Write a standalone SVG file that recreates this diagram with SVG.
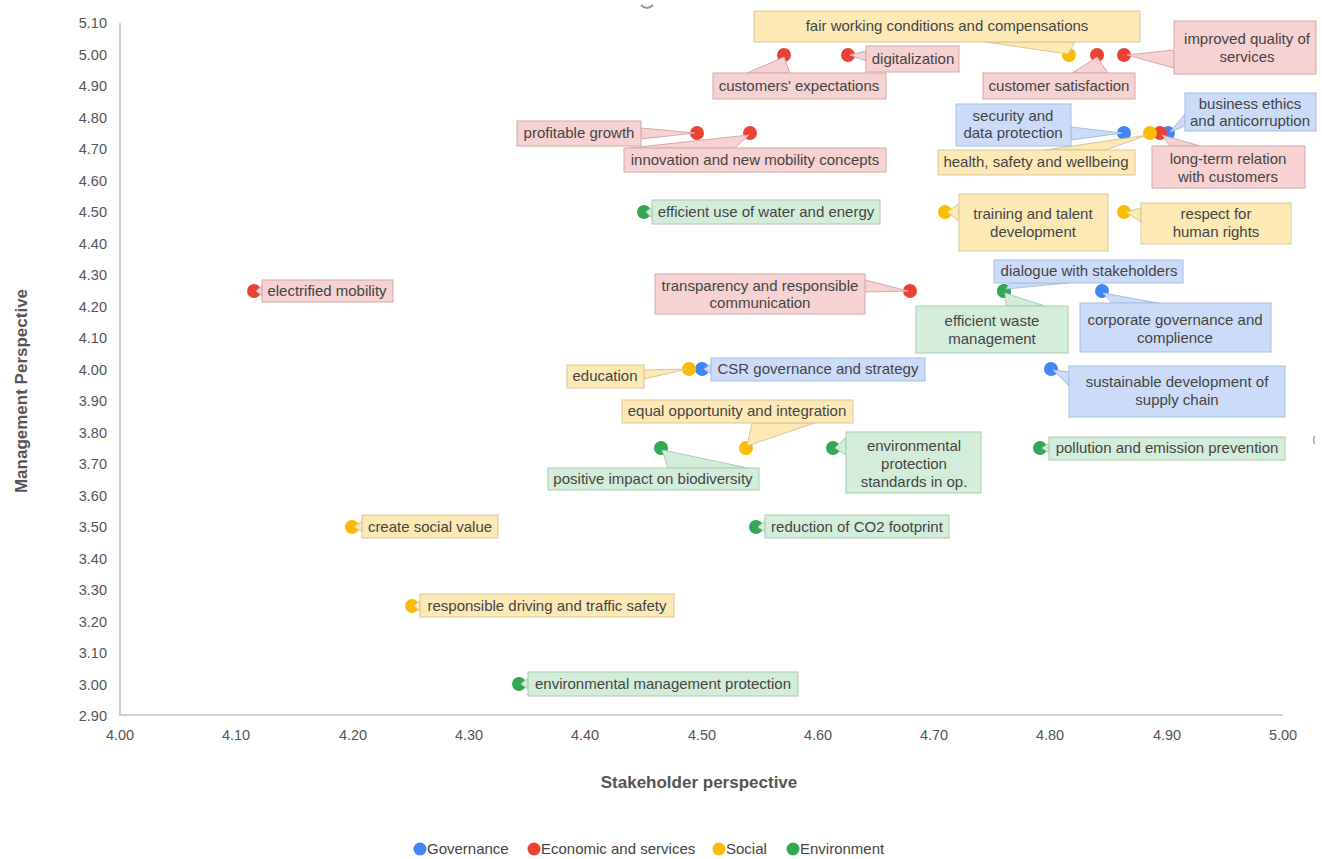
<svg xmlns="http://www.w3.org/2000/svg" width="1322" height="859" viewBox="0 0 1322 859">
  <style>
    text { font-family: "Liberation Sans", Arial, sans-serif; }
    .tick { font-size: 14.5px; fill: #555; }
    .ty { text-anchor: end; }
    .tx { text-anchor: middle; }
    .title { font-size: 17px; font-weight: bold; fill: #555; text-anchor: middle; }
    .leg { font-size: 15px; fill: #444; }
    .lbl { font-size: 15px; fill: #444; text-anchor: middle; }
    .axis { stroke: #cfcfcf; stroke-width: 2; fill: none; }
    .gov { fill: #4285F4; }
    .eco { fill: #EA4335; }
    .soc { fill: #FBBC04; }
    .env { fill: #34A853; }
    .bg { fill: #CCDCF8; stroke: #a9bedf; stroke-width: 1; }
    .be { fill: #F6D2D2; stroke: #d4aaaa; stroke-width: 1; }
    .bs { fill: #FCE9B6; stroke: #d8c795; stroke-width: 1; }
    .bn { fill: #D4EDDA; stroke: #a9ccb2; stroke-width: 1; }
  </style>

  <rect x="0" y="0" width="1322" height="859" fill="#ffffff"/>

  <!-- axes -->
  <g id="axes">
    <line class="axis" x1="120" y1="23" x2="120" y2="715"/>
    <line class="axis" x1="119" y1="715" x2="1283" y2="715"/>
    <path d="M641,5 Q647,11 653,5" stroke="#9a9a9a" stroke-width="2" fill="none"/>
    <path d="M1315,436 Q1312,440 1315,444" stroke="#aaaaaa" stroke-width="1.5" fill="none"/>
  </g>

  <!-- y ticks: 0.10 = 31.45px, 3.00 at y=684 -->
  <g id="y-ticks" class="tick ty">
    <text x="107" y="28">5.10</text>
    <text x="107" y="60">5.00</text>
    <text x="107" y="91">4.90</text>
    <text x="107" y="123">4.80</text>
    <text x="107" y="154">4.70</text>
    <text x="107" y="186">4.60</text>
    <text x="107" y="217">4.50</text>
    <text x="107" y="249">4.40</text>
    <text x="107" y="280">4.30</text>
    <text x="107" y="312">4.20</text>
    <text x="107" y="343">4.10</text>
    <text x="107" y="375">4.00</text>
    <text x="107" y="406">3.90</text>
    <text x="107" y="438">3.80</text>
    <text x="107" y="469">3.70</text>
    <text x="107" y="501">3.60</text>
    <text x="107" y="532">3.50</text>
    <text x="107" y="564">3.40</text>
    <text x="107" y="595">3.30</text>
    <text x="107" y="627">3.20</text>
    <text x="107" y="658">3.10</text>
    <text x="107" y="690">3.00</text>
    <text x="107" y="721">2.90</text>
  </g>

  <!-- x ticks: 0.10 = 116.3px, 4.00 at x=120 -->
  <g id="x-ticks" class="tick tx">
    <text x="120" y="740">4.00</text>
    <text x="236" y="740">4.10</text>
    <text x="353" y="740">4.20</text>
    <text x="469" y="740">4.30</text>
    <text x="585" y="740">4.40</text>
    <text x="702" y="740">4.50</text>
    <text x="818" y="740">4.60</text>
    <text x="934" y="740">4.70</text>
    <text x="1050" y="740">4.80</text>
    <text x="1167" y="740">4.90</text>
    <text x="1283" y="740">5.00</text>
  </g>

  <g id="axis-titles">
    <text class="title" x="699" y="788">Stakeholder perspective</text>
    <text class="title" transform="translate(27,391) rotate(-90)">Management Perspective</text>
  </g>

  <!-- data points, drawn series by series -->
  <g id="points">
    <circle class="gov" cx="1124" cy="133" r="7"/>
    <circle class="gov" cx="1168" cy="133" r="7"/>
    <circle class="gov" cx="1004" cy="291" r="7"/>
    <circle class="gov" cx="1102" cy="291" r="7"/>
    <circle class="gov" cx="702" cy="369" r="7"/>
    <circle class="gov" cx="1051" cy="369" r="7"/>

    <circle class="eco" cx="784" cy="55" r="7"/>
    <circle class="eco" cx="848" cy="55" r="7"/>
    <circle class="eco" cx="1097" cy="55" r="7"/>
    <circle class="eco" cx="1124" cy="55" r="7"/>
    <circle class="eco" cx="697" cy="133" r="7"/>
    <circle class="eco" cx="750" cy="133" r="7"/>
    <circle class="eco" cx="1160" cy="133" r="7"/>
    <circle class="eco" cx="254" cy="291" r="7"/>
    <circle class="eco" cx="910" cy="291" r="7"/>

    <circle class="soc" cx="1069" cy="55" r="7"/>
    <circle class="soc" cx="1150" cy="133" r="7"/>
    <circle class="soc" cx="945" cy="212" r="7"/>
    <circle class="soc" cx="1124" cy="212" r="7"/>
    <circle class="soc" cx="689" cy="369" r="7"/>
    <circle class="soc" cx="746" cy="448" r="7"/>
    <circle class="soc" cx="352" cy="527" r="7"/>
    <circle class="soc" cx="412" cy="606" r="7"/>

    <circle class="env" cx="644" cy="212" r="7"/>
    <circle class="env" cx="1004" cy="291" r="7"/>
    <circle class="env" cx="661" cy="448" r="7"/>
    <circle class="env" cx="833" cy="448" r="7"/>
    <circle class="env" cx="1040" cy="448" r="7"/>
    <circle class="env" cx="756" cy="527" r="7"/>
    <circle class="env" cx="519" cy="684" r="7"/>
  </g>

  <!-- callout tails from each label to its point -->
  <g id="connectors">
    <polygon class="bs" points="985,42 1068,54 1075,42"/>
    <polygon class="be" points="747,73 784,57 790,73"/>
    <polygon class="be" points="866,51 850,55 866,61"/>
    <polygon class="be" points="1174,50 1127,55 1174,68"/>
    <polygon class="be" points="1072,73 1097,57 1108,73"/>
    <polygon class="be" points="641,128 695,133 641,139"/>
    <polygon class="be" points="630,148 749,135 735,148"/>
    <polygon class="bg" points="1071,127 1122,133 1071,140"/>
    <polygon class="bg" points="1185,114 1170,132 1185,126"/>
    <polygon class="bs" points="1045,150 1148,135 1105,150"/>
    <polygon class="be" points="1170,146 1162,135 1200,146"/>
    <polygon class="bn" points="652,207 646,212 652,218"/>
    <polygon class="bs" points="959,204 947,212 959,221"/>
    <polygon class="bs" points="1141,208 1126,212 1141,222"/>
    <polygon class="be" points="262,286 256,291 262,296"/>
    <polygon class="be" points="865,280 908,291 865,292"/>
    <polygon class="bg" points="1010,283 1006,289 1068,283"/>
    <polygon class="bn" points="1006,306 1005,293 1045,306"/>
    <polygon class="bg" points="1112,303 1103,293 1158,303"/>
    <polygon class="bs" points="644,370 687,369 644,379"/>
    <polygon class="bg" points="711,364 704,369 711,374"/>
    <polygon class="bg" points="1069,372 1053,370 1069,386"/>
    <polygon class="bs" points="752,423 747,446 815,423"/>
    <polygon class="bn" points="668,468 662,450 748,468"/>
    <polygon class="bn" points="846,437 835,448 846,455"/>
    <polygon class="bn" points="1049,443 1042,448 1049,453"/>
    <polygon class="bs" points="362,521 354,527 362,532"/>
    <polygon class="bn" points="765,521 758,527 765,532"/>
    <polygon class="bs" points="420,600 414,606 420,611"/>
    <polygon class="bn" points="528,678 521,684 528,689"/>
  </g>

  <!-- labels -->
  <g id="n-fair-working">
    <rect class="bs" x="754" y="11" width="386" height="31"/>
    <text class="lbl" x="947" y="31">fair working conditions and compensations</text>
  </g>
  <g id="n-customers-expectations">
    <rect class="be" x="713" y="73" width="173" height="26"/>
    <text class="lbl" x="799" y="91">customers' expectations</text>
  </g>
  <g id="n-digitalization">
    <rect class="be" x="866" y="46" width="93" height="26"/>
    <text class="lbl" x="913" y="64">digitalization</text>
  </g>
  <g id="n-improved-quality">
    <rect class="be" x="1174" y="21" width="142" height="53"/>
    <text class="lbl" x="1247" y="44">improved quality of</text>
    <text class="lbl" x="1247" y="62">services</text>
  </g>
  <g id="n-customer-satisfaction">
    <rect class="be" x="983" y="73" width="152" height="26"/>
    <text class="lbl" x="1059" y="91">customer satisfaction</text>
  </g>
  <g id="n-profitable-growth">
    <rect class="be" x="517" y="121" width="124" height="25"/>
    <text class="lbl" x="579" y="138">profitable growth</text>
  </g>
  <g id="n-innovation">
    <rect class="be" x="624" y="148" width="262" height="24"/>
    <text class="lbl" x="755" y="165">innovation and new mobility concepts</text>
  </g>
  <g id="n-security">
    <rect class="bg" x="956" y="104" width="115" height="42"/>
    <text class="lbl" x="1013" y="121">security and</text>
    <text class="lbl" x="1013" y="138">data protection</text>
  </g>
  <g id="n-business-ethics">
    <rect class="bg" x="1185" y="93" width="131" height="38"/>
    <text class="lbl" x="1250" y="109">business ethics</text>
    <text class="lbl" x="1250" y="126">and anticorruption</text>
  </g>
  <g id="n-health-safety">
    <rect class="bs" x="938" y="150" width="197" height="25"/>
    <text class="lbl" x="1036" y="167">health, safety and wellbeing</text>
  </g>
  <g id="n-long-term-relation">
    <rect class="be" x="1152" y="146" width="153" height="42"/>
    <text class="lbl" x="1228" y="164">long-term relation</text>
    <text class="lbl" x="1228" y="182">with customers</text>
  </g>
  <g id="n-water-energy">
    <rect class="bn" x="652" y="200" width="228" height="24"/>
    <text class="lbl" x="766" y="217">efficient use of water and energy</text>
  </g>
  <g id="n-training">
    <rect class="bs" x="959" y="194" width="149" height="57"/>
    <text class="lbl" x="1033" y="219">training and talent</text>
    <text class="lbl" x="1033" y="237">development</text>
  </g>
  <g id="n-human-rights">
    <rect class="bs" x="1141" y="203" width="150" height="41"/>
    <text class="lbl" x="1216" y="219">respect for</text>
    <text class="lbl" x="1216" y="237">human rights</text>
  </g>
  <g id="n-electrified-mobility">
    <rect class="be" x="262" y="280" width="131" height="22"/>
    <text class="lbl" x="327" y="296">electrified mobility</text>
  </g>
  <g id="n-transparency">
    <rect class="be" x="655" y="274" width="210" height="40"/>
    <text class="lbl" x="760" y="291">transparency and responsible</text>
    <text class="lbl" x="760" y="308">communication</text>
  </g>
  <g id="n-dialogue">
    <rect class="bg" x="994" y="260" width="189" height="23"/>
    <text class="lbl" x="1089" y="276">dialogue with stakeholders</text>
  </g>
  <g id="n-waste">
    <rect class="bn" x="916" y="306" width="152" height="47"/>
    <text class="lbl" x="992" y="326">efficient waste</text>
    <text class="lbl" x="992" y="344">management</text>
  </g>
  <g id="n-corporate-governance">
    <rect class="bg" x="1080" y="303" width="191" height="49"/>
    <text class="lbl" x="1175" y="325">corporate governance and</text>
    <text class="lbl" x="1175" y="343">complience</text>
  </g>
  <g id="n-education">
    <rect class="bs" x="567" y="365" width="77" height="23"/>
    <text class="lbl" x="605" y="381">education</text>
  </g>
  <g id="n-csr">
    <rect class="bg" x="711" y="358" width="214" height="23"/>
    <text class="lbl" x="818" y="374">CSR governance and strategy</text>
  </g>
  <g id="n-supply-chain">
    <rect class="bg" x="1069" y="366" width="216" height="51"/>
    <text class="lbl" x="1177" y="387">sustainable development of</text>
    <text class="lbl" x="1177" y="405">supply chain</text>
  </g>
  <g id="n-equal-opportunity">
    <rect class="bs" x="622" y="400" width="231" height="23"/>
    <text class="lbl" x="737" y="416">equal opportunity and integration</text>
  </g>
  <g id="n-biodiversity">
    <rect class="bn" x="548" y="468" width="211" height="22"/>
    <text class="lbl" x="653" y="484">positive impact on biodiversity</text>
  </g>
  <g id="n-env-protection">
    <rect class="bn" x="846" y="432" width="135" height="61"/>
    <text class="lbl" x="914" y="451">environmental</text>
    <text class="lbl" x="914" y="469">protection</text>
    <text class="lbl" x="914" y="487">standards in op.</text>
  </g>
  <g id="n-pollution">
    <rect class="bn" x="1049" y="437" width="236" height="23"/>
    <text class="lbl" x="1167" y="453">pollution and emission prevention</text>
  </g>
  <g id="n-social-value">
    <rect class="bs" x="362" y="515" width="136" height="23"/>
    <text class="lbl" x="430" y="532">create social value</text>
  </g>
  <g id="n-co2">
    <rect class="bn" x="765" y="515" width="184" height="23"/>
    <text class="lbl" x="857" y="532">reduction of CO2 footprint</text>
  </g>
  <g id="n-driving">
    <rect class="bs" x="420" y="594" width="254" height="23"/>
    <text class="lbl" x="547" y="611">responsible driving and traffic safety</text>
  </g>
  <g id="n-env-management">
    <rect class="bn" x="528" y="672" width="270" height="24"/>
    <text class="lbl" x="663" y="689">environmental management protection</text>
  </g>

  <!-- legend -->
  <g id="legend">
    <circle class="gov" cx="420" cy="849" r="6.5"/>
    <text class="leg" x="427" y="854">Governance</text>
    <circle class="eco" cx="534" cy="849" r="6.5"/>
    <text class="leg" x="541" y="854">Economic and services</text>
    <circle class="soc" cx="719" cy="849" r="6.5"/>
    <text class="leg" x="726" y="854">Social</text>
    <circle class="env" cx="793" cy="849" r="6.5"/>
    <text class="leg" x="800" y="854">Environment</text>
  </g>
</svg>
